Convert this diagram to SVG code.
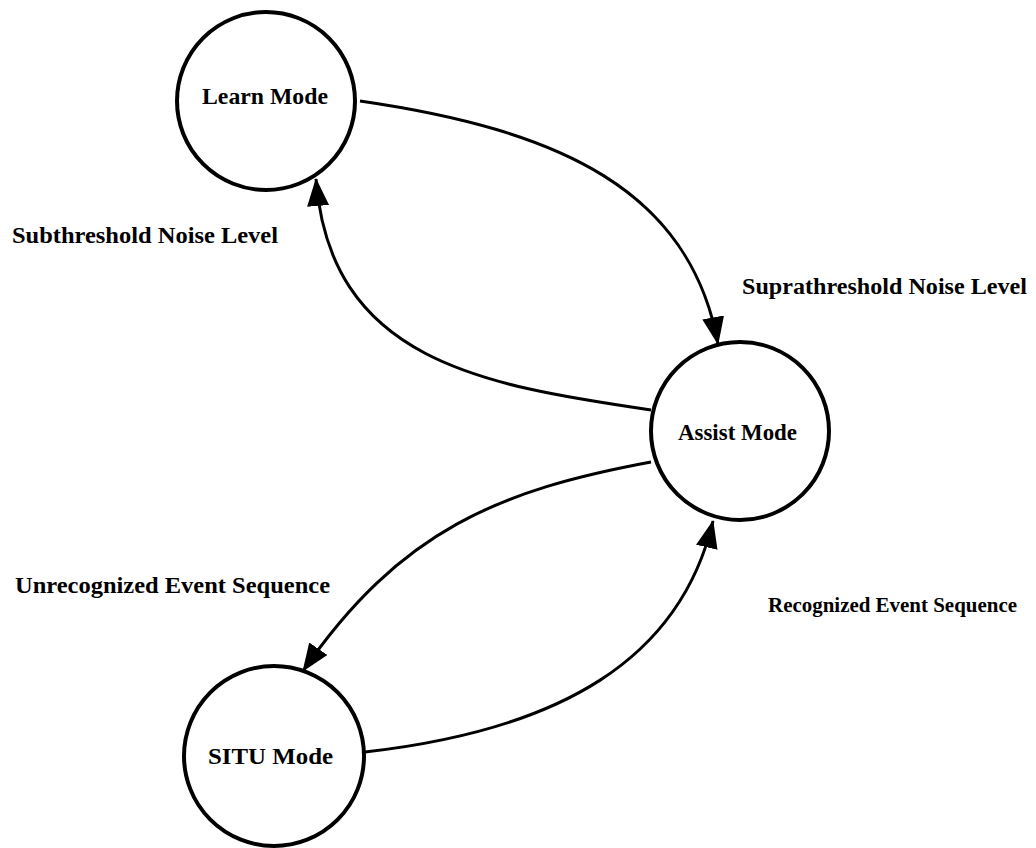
<svg xmlns="http://www.w3.org/2000/svg" width="1036" height="848" viewBox="0 0 1036 848">
<style>
.node circle{fill:#fff;stroke:#000;stroke-width:4}
.node text,.lbl{font-family:"Liberation Serif","Times New Roman",serif;font-weight:bold;font-size:24px;fill:#000}
.edge{fill:none;stroke:#000;stroke-width:3}
</style>
<defs>
<marker id="arr" markerUnits="userSpaceOnUse" markerWidth="30" markerHeight="24" refX="27" refY="11" orient="auto">
<path d="M0,0 L28,11 L0,22 Z" fill="#000"/>
</marker>
</defs>
<rect width="1036" height="848" fill="#fff"/>
<g id="connectors">
<path class="edge" d="M360 101 C560 130 690 190 718 344" marker-end="url(#arr)"/>
<path class="edge" d="M651 410 C480 385 330 360 316 179" marker-end="url(#arr)"/>
<path class="edge" d="M651 462 C500 490 400 530 303 671" marker-end="url(#arr)"/>
<path class="edge" d="M365 752 C560 730 680 660 713 521" marker-end="url(#arr)"/>
</g>
<g id="learn" class="node"><circle cx="266" cy="101" r="89"/><text x="202" y="104" textLength="126" lengthAdjust="spacingAndGlyphs">Learn Mode</text></g>
<g id="assist" class="node"><circle cx="740" cy="431" r="89"/><text x="678" y="440" textLength="119" lengthAdjust="spacingAndGlyphs">Assist Mode</text></g>
<g id="situ" class="node"><circle cx="274" cy="756" r="90"/><text x="208" y="764" textLength="125" lengthAdjust="spacingAndGlyphs">SITU Mode</text></g>
<g id="labels">
<text class="lbl" x="12" y="243" textLength="266" lengthAdjust="spacingAndGlyphs">Subthreshold Noise Level</text>
<text class="lbl" x="742" y="294" textLength="285" lengthAdjust="spacingAndGlyphs">Suprathreshold Noise Level</text>
<text class="lbl" x="15" y="593" textLength="315" lengthAdjust="spacingAndGlyphs">Unrecognized Event Sequence</text>
<text class="lbl" x="768" y="612" style="font-size:21px" textLength="249" lengthAdjust="spacingAndGlyphs">Recognized Event Sequence</text>
</g>
</svg>
